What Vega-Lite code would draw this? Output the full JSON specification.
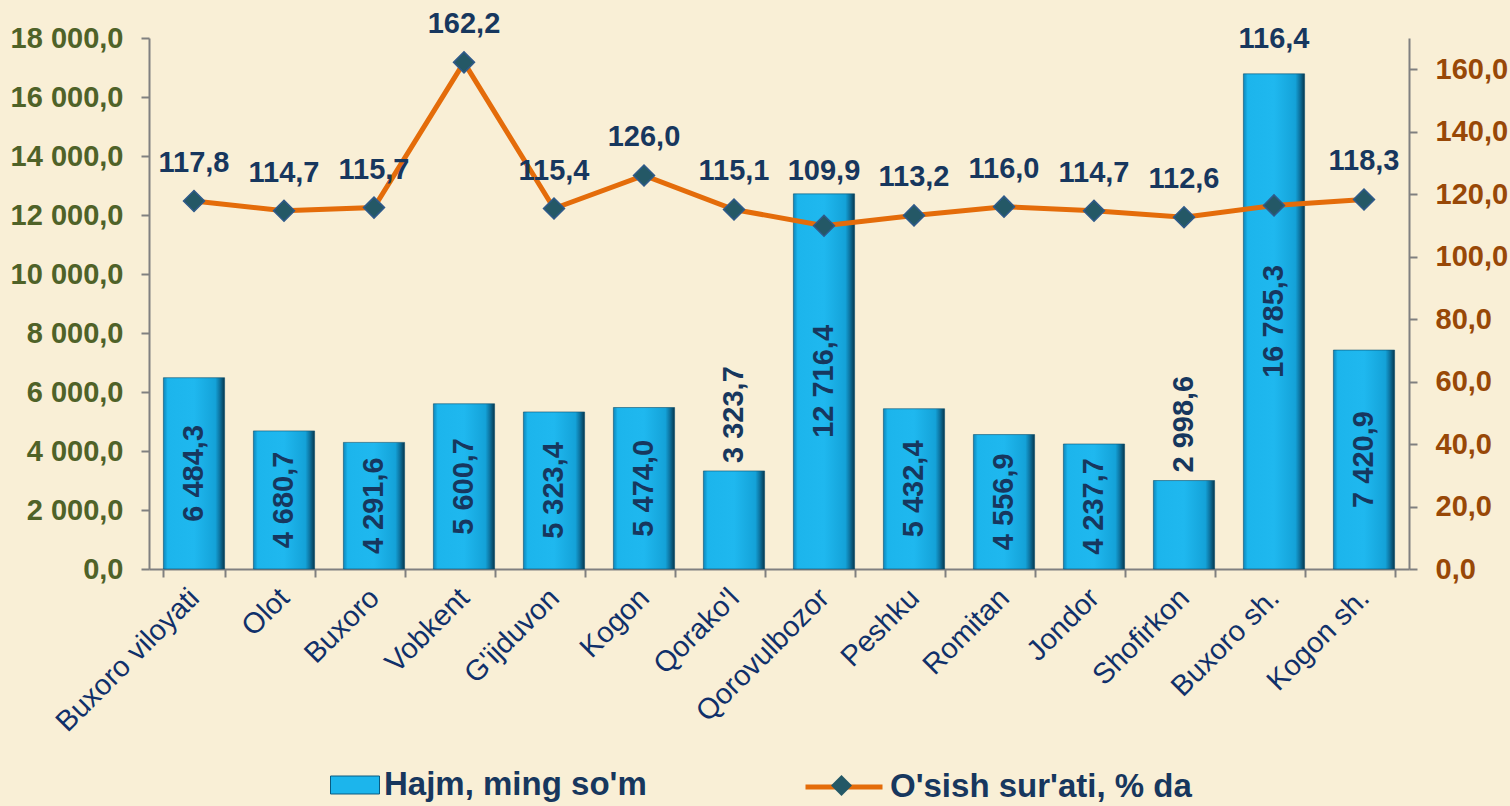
{
  "$schema": "https://vega.github.io/schema/vega-lite/v6.json",
  "width": 1260,
  "height": 531,
  "autosize": {"type": "none"},
  "padding": {"left": 149, "top": 38, "right": 101, "bottom": 237},
  "background": "#f9efd6",
  "config": {
    "locale": {"number": {"decimal": ",", "thousands": " ", "grouping": [3], "currency": ["", ""]}},
    "view": {"stroke": null},
    "font": "Liberation Sans"
  },
  "data": {
    "values": [
      {"name": "Buxoro viloyati", "v": 6484.3, "g": 117.8},
      {"name": "Olot", "v": 4680.7, "g": 114.7},
      {"name": "Buxoro", "v": 4291.6, "g": 115.7},
      {"name": "Vobkent", "v": 5600.7, "g": 162.2},
      {"name": "G'ijduvon", "v": 5323.4, "g": 115.4},
      {"name": "Kogon", "v": 5474.0, "g": 126.0},
      {"name": "Qorako'l", "v": 3323.7, "g": 115.1},
      {"name": "Qorovulbozor", "v": 12716.4, "g": 109.9},
      {"name": "Peshku", "v": 5432.4, "g": 113.2},
      {"name": "Romitan", "v": 4556.9, "g": 116.0},
      {"name": "Jondor", "v": 4237.7, "g": 114.7},
      {"name": "Shofirkon", "v": 2998.6, "g": 112.6},
      {"name": "Buxoro sh.", "v": 16785.3, "g": 116.4},
      {"name": "Kogon sh.", "v": 7420.9, "g": 118.3}
    ]
  },
  "encoding": {
    "x": {
      "field": "name", "type": "nominal", "sort": null,
      "scale": {"paddingInner": 0.32, "paddingOuter": 0.16},
      "axis": {
        "title": null, "labelAngle": -45, "labelAlign": "right", "labelBaseline": "middle",
        "labelFontSize": 29, "labelColor": "#10306a", "labelFont": "Liberation Sans",
        "labelPadding": 16, "labelLimit": 0, "labelOverlap": false,
        "domainColor": "#808080", "domainWidth": 2,
        "tickColor": "#808080", "tickWidth": 2, "tickSize": 8, "tickBand": "extent"
      }
    }
  },
  "layer": [
    {
      "encoding": {
        "y": {
          "field": "v", "type": "quantitative",
          "scale": {"domain": [0, 18000], "nice": false},
          "axis": {
            "orient": "left", "title": null, "grid": false,
            "values": [0, 2000, 4000, 6000, 8000, 10000, 12000, 14000, 16000, 18000],
            "format": ",.1f", "labelFontSize": 29, "labelFontWeight": "bold",
            "labelColor": "#4f6228", "labelFont": "Liberation Sans", "labelPadding": 18,
            "domainColor": "#808080", "domainWidth": 2,
            "tickColor": "#808080", "tickWidth": 2, "tickSize": 8
          }
        }
      },
      "layer": [
        {
          "mark": {"type": "bar", "stroke": "#0a4f6e", "strokeWidth": 0.6,
            "fill": {"gradient": "linear", "x1": 0, "x2": 1, "y1": 0, "y2": 0,
              "stops": [
                {"offset": 0, "color": "#0d86bb"},
                {"offset": 0.07, "color": "#1cb5ec"},
                {"offset": 0.5, "color": "#1fb8ef"},
                {"offset": 0.85, "color": "#14a2d8"},
                {"offset": 0.93, "color": "#0c6e99"},
                {"offset": 1, "color": "#06384f"}
              ]}}
        },
        {
          "transform": [{"filter": "false"}],
          "mark": {"type": "bar"},
          "encoding": {
            "fill": {
              "datum": "Hajm, ming so'm",
              "scale": {"range": ["#1cb5ec"]},
              "legend": {
                "orient": "none", "legendX": 181, "legendY": 722, "title": null, "padding": 0,
                "symbolType": "M-1,-0.367L1,-0.367L1,0.367L-1,0.367Z", "symbolSize": 2401,
                "symbolStrokeColor": "#0a5a80", "symbolStrokeWidth": 1,
                "labelFontSize": 33, "labelFontWeight": "bold", "labelColor": "#17375e",
                "labelFont": "Liberation Sans", "labelLimit": 0, "labelOffset": 4
              }
            }
          }
        },
        {
          "transform": [{"filter": "datum.v > 4000"}, {"calculate": "datum.v / 2", "as": "mid"}],
          "mark": {"type": "text", "angle": 270, "align": "center", "baseline": "middle",
            "fontSize": 29, "fontWeight": "bold", "font": "Liberation Sans", "fill": "#17375e"},
          "encoding": {
            "y": {"field": "mid", "type": "quantitative", "title": null},
            "text": {"field": "v", "type": "quantitative", "format": ",.1f"}
          }
        },
        {
          "transform": [{"filter": "datum.v < 4000"}],
          "mark": {"type": "text", "angle": 270, "align": "left", "baseline": "middle", "dx": 8,
            "fontSize": 29, "fontWeight": "bold", "font": "Liberation Sans", "fill": "#17375e"},
          "encoding": {
            "text": {"field": "v", "type": "quantitative", "format": ",.1f"}
          }
        },
        {
          "transform": [{"filter": "datum.name === 'Buxoro sh.'"}],
          "mark": {"type": "text", "align": "center", "baseline": "middle", "dy": -35,
            "fontSize": 29, "fontWeight": "bold", "font": "Liberation Sans", "fill": "#17375e"},
          "encoding": {
            "text": {"field": "g", "type": "quantitative", "format": ",.1f"}
          }
        },
        {
          "transform": [{"filter": "datum.name === 'Qorovulbozor'"}],
          "mark": {"type": "text", "align": "center", "baseline": "middle", "dy": -23,
            "fontSize": 29, "fontWeight": "bold", "font": "Liberation Sans", "fill": "#17375e"},
          "encoding": {
            "text": {"field": "g", "type": "quantitative", "format": ",.1f"}
          }
        }
      ]
    },
    {
      "encoding": {
        "y": {
          "field": "g", "type": "quantitative",
          "scale": {"domain": [0, 170], "nice": false},
          "axis": {
            "orient": "right", "title": null, "grid": false,
            "values": [0, 20, 40, 60, 80, 100, 120, 140, 160],
            "format": ",.1f", "labelFontSize": 29, "labelFontWeight": "bold",
            "labelColor": "#984807", "labelFont": "Liberation Sans", "labelPadding": 18,
            "domainColor": "#808080", "domainWidth": 2,
            "tickColor": "#808080", "tickWidth": 2, "tickSize": 8
          }
        }
      },
      "layer": [
        {
          "mark": {"type": "line", "strokeWidth": 5},
          "encoding": {
            "stroke": {
              "datum": "O'sish sur'ati, % da",
              "scale": {"range": ["#e46c0a"]},
              "legend": {
                "orient": "none", "legendX": 654, "legendY": 708, "title": null, "padding": 0,
                "symbolType": "stroke", "symbolSize": 5929, "symbolStrokeWidth": 5,
                "labelFontSize": 33, "labelFontWeight": "bold", "labelColor": "#17375e",
                "labelFont": "Liberation Sans", "labelLimit": 0, "labelOffset": 5
              }
            }
          }
        },
        {
          "mark": {"type": "point", "filled": true, "size": 440, "fill": "#245866",
            "stroke": "#2f5a8a", "strokeWidth": 1.5, "opacity": 1},
          "encoding": {
            "shape": {
              "datum": "marker",
              "scale": {"range": ["diamond"]},
              "legend": {
                "orient": "none", "legendX": 681, "legendY": 736, "title": null, "padding": 0,
                "symbolSize": 440, "symbolFillColor": "#245866", "symbolStrokeColor": "#2f5a8a",
                "symbolStrokeWidth": 1.5, "symbolOpacity": 1,
                "labelExpr": "''", "labelFontSize": 1
              }
            }
          }
        },
        {
          "transform": [{"filter": "datum.name !== 'Qorovulbozor' && datum.name !== 'Buxoro sh.'"}],
          "mark": {"type": "text", "align": "center", "baseline": "middle", "dy": -38,
            "fontSize": 29, "fontWeight": "bold", "font": "Liberation Sans", "fill": "#17375e"},
          "encoding": {
            "text": {"field": "g", "type": "quantitative", "format": ",.1f"}
          }
        }
      ]
    }
  ],
  "resolve": {"scale": {"y": "independent"}, "axis": {"y": "independent"}}
}
